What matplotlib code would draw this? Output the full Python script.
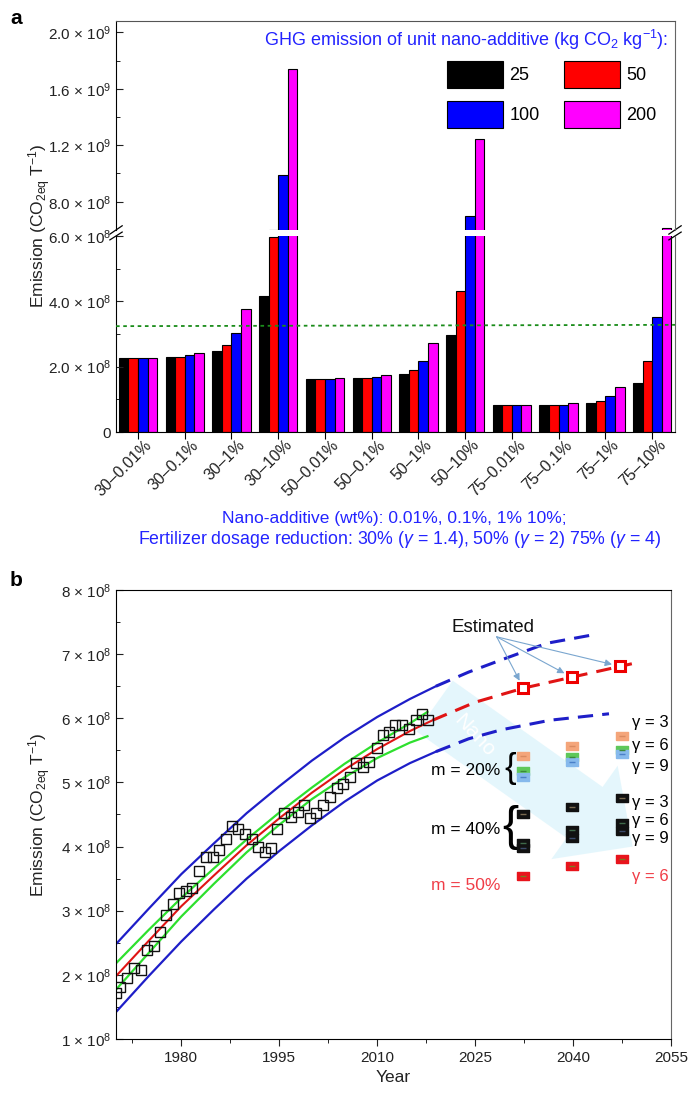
import matplotlib
matplotlib.use('Agg')
import matplotlib.pyplot as plt
from matplotlib.ticker import FixedLocator, FuncFormatter
from matplotlib.transforms import ScaledTranslation
import numpy as np

plt.rcParams['font.family'] = ['Liberation Sans', 'DejaVu Sans']
plt.rcParams['mathtext.fontset'] = 'custom'
plt.rcParams['mathtext.rm'] = 'Liberation Sans'
plt.rcParams['mathtext.it'] = 'Liberation Sans:italic'
plt.rcParams['mathtext.default'] = 'regular'

# ---------------- panel a data ----------------
groups = ['30–0.01%', '30–0.1%', '30–1%', '30–10%',
          '50–0.01%', '50–0.1%', '50–1%', '50–10%',
          '75–0.01%', '75–0.1%', '75–1%', '75–10%']
ghg_levels = ['25', '50', '100', '200']
em_25 = [2.28e8, 2.29e8, 2.48e8, 4.17e8, 1.63e8, 1.64e8, 1.77e8, 2.98e8, 0.83e8, 0.83e8, 0.90e8, 1.50e8]
em_50 = [2.28e8, 2.30e8, 2.66e8, 5.98e8, 1.63e8, 1.65e8, 1.90e8, 4.31e8, 0.83e8, 0.83e8, 0.96e8, 2.17e8]
em_100 = [2.28e8, 2.35e8, 3.02e8, 9.86e8, 1.63e8, 1.68e8, 2.17e8, 7.00e8, 0.83e8, 0.84e8, 1.09e8, 3.52e8]
em_200 = [2.28e8, 2.43e8, 3.77e8, 1.737e9, 1.64e8, 1.74e8, 2.72e8, 1.242e9, 0.83e8, 0.88e8, 1.37e8, 6.15e8]
threshold = [3.24e8, 3.28e8]  # dotted green line, left and right end

# ---------------- panel b data ----------------
obs_year = [1970.0, 1970.6, 1971.7, 1972.7, 1973.8, 1974.8, 1975.8, 1976.8, 1977.7, 1978.7,
            1979.7, 1980.7, 1981.7, 1982.7, 1983.8, 1984.8, 1985.8, 1986.8, 1987.8, 1988.7,
            1989.8, 1990.8, 1991.8, 1992.8, 1993.8, 1994.7, 1995.7, 1996.8, 1997.8, 1998.8,
            1999.7, 2000.7, 2001.7, 2002.8, 2003.8, 2004.8, 2005.8, 2006.8, 2007.9, 2008.8,
            2009.9, 2010.9, 2011.8, 2012.8, 2013.8, 2014.8, 2015.9, 2016.9, 2017.8]
obs_em = [1.72e8, 1.81e8, 1.95e8, 2.11e8, 2.08e8, 2.38e8, 2.45e8, 2.66e8, 2.93e8, 3.10e8,
          3.28e8, 3.30e8, 3.36e8, 3.62e8, 3.84e8, 3.84e8, 3.94e8, 4.12e8, 4.32e8, 4.28e8,
          4.19e8, 4.11e8, 4.00e8, 3.92e8, 3.97e8, 4.28e8, 4.53e8, 4.46e8, 4.54e8, 4.65e8,
          4.44e8, 4.52e8, 4.65e8, 4.78e8, 4.91e8, 4.98e8, 5.09e8, 5.31e8, 5.24e8, 5.32e8,
          5.53e8, 5.74e8, 5.79e8, 5.89e8, 5.89e8, 5.84e8, 5.97e8, 6.07e8, 5.98e8]

fit_year = [1970, 1975, 1980, 1985, 1990, 1995, 2000, 2005, 2010, 2015, 2018.5]
fit_em = [1.98e8, 2.53e8, 3.07e8, 3.55e8, 4.02e8, 4.44e8, 4.84e8, 5.20e8, 5.52e8, 5.80e8, 5.97e8]
ci_hi = [2.18e8, 2.70e8, 3.20e8, 3.66e8, 4.11e8, 4.53e8, 4.92e8, 5.29e8, 5.62e8, 5.92e8, 6.10e8]
ci_lo = [1.77e8, 2.34e8, 2.91e8, 3.42e8, 3.91e8, 4.34e8, 4.74e8, 5.08e8, 5.38e8, 5.62e8, 5.72e8]
ci_year = [1970, 1975, 1980, 1985, 1990, 1995, 2000, 2005, 2010, 2015, 2017.7]

pi_year = [1970, 1975, 1980, 1985, 1990, 1995, 2000, 2005, 2010, 2015, 2019]
pi_hi = [2.48e8, 3.03e8, 3.57e8, 4.05e8, 4.52e8, 4.94e8, 5.34e8, 5.70e8, 6.02e8, 6.30e8, 6.50e8]
pi_lo = [1.42e8, 1.98e8, 2.52e8, 3.02e8, 3.50e8, 3.93e8, 4.33e8, 4.70e8, 5.03e8, 5.30e8, 5.48e8]

proj_year = [2018.5, 2025, 2032.4, 2039.8, 2049.0]
proj_em = [5.97e8, 6.25e8, 6.47e8, 6.64e8, 6.85e8]
proj_hi_year = [2019, 2024, 2029, 2036, 2043]
proj_hi = [6.50e8, 6.72e8, 6.91e8, 7.17e8, 7.30e8]
proj_lo_year = [2019, 2024, 2029, 2036.5, 2045.5]
proj_lo = [5.48e8, 5.68e8, 5.82e8, 5.97e8, 6.07e8]

est_year = [2032.4, 2039.8, 2047.2]
est_em = [6.47e8, 6.64e8, 6.81e8]

scen_year = [2032.4, 2039.9, 2047.5]
m20_g3 = [5.41e8, 5.56e8, 5.73e8]
m20_g6 = [5.18e8, 5.40e8, 5.50e8]
m20_g9 = [5.09e8, 5.32e8, 5.45e8]
m40_g3 = [4.51e8, 4.62e8, 4.75e8]
m40_g6 = [4.06e8, 4.26e8, 4.36e8]
m40_g9 = [3.97e8, 4.14e8, 4.25e8]
m50_g6 = [3.54e8, 3.70e8, 3.80e8]


def fmt_a(v, pos):
    if v == 0:
        return '0'
    e = int(np.floor(np.log10(v) + 1e-9))
    return f'{v / 10**e:.1f} × 10$^{{{e}}}$'


def fmt_b(v, pos):
    e = int(np.floor(np.log10(v) + 1e-9))
    return f'{v / 10**e:.0f} × 10$^{{{e}}}$'


fig = plt.figure(figsize=(6.89, 10.94), dpi=100)

# ================= panel a (broken axis) =================
ax_hi = fig.add_axes([0.1684, 0.7898, 0.8113, 0.1910])
ax_lo = fig.add_axes([0.1684, 0.6051, 0.8113, 0.1792])

x = np.arange(len(groups))
w = 0.205
bar_colors = ['#000000', '#ff0000', '#0000ff', '#ff00ff']
handles = []
for k, (vals, c, lab) in enumerate(zip([em_25, em_50, em_100, em_200], bar_colors, ghg_levels)):
    for ax in (ax_hi, ax_lo):
        b = ax.bar(x + (k - 1.5) * w, vals, w, color=c, edgecolor='black', linewidth=0.8, label=lab)
    handles.append(b)

for ax in (ax_hi, ax_lo):
    ax.set_xlim(-0.47, 11.49)
    ax.spines['right'].set_color('#666666')
    ax.spines['top'].set_color('#555555')

ax_hi.set_ylim(6.0e8, 2.08e9)
ax_lo.set_ylim(0, 6.0e8)
ax_hi.spines['bottom'].set_visible(False)
ax_lo.spines['top'].set_visible(False)
ax_hi.tick_params(axis='x', bottom=False, labelbottom=False)

ax_hi.yaxis.set_major_locator(FixedLocator([8e8, 1.2e9, 1.6e9, 2.0e9]))
ax_hi.yaxis.set_minor_locator(FixedLocator([1.0e9, 1.4e9, 1.8e9]))
ax_lo.yaxis.set_major_locator(FixedLocator([0, 2e8, 4e8, 6e8]))
ax_lo.yaxis.set_minor_locator(FixedLocator([1e8, 3e8, 5e8]))
for ax in (ax_hi, ax_lo):
    ax.yaxis.set_major_formatter(FuncFormatter(fmt_a))
    ax.tick_params(axis='y', which='major', direction='in', length=5, labelsize=11, colors='#222222')
    ax.tick_params(axis='y', which='minor', direction='in', length=3)

ax_lo.set_xticks(x)
ax_lo.set_xticklabels(groups, rotation=45, ha='right', va='top', rotation_mode='anchor',
                      fontsize=11.5, color='#222222')
ax_lo.tick_params(axis='x', direction='out', length=5, pad=1)
shift = ScaledTranslation(6 / 100, 3 / 100, fig.dpi_scale_trans)
for lbl in ax_lo.get_xticklabels():
    lbl.set_transform(lbl.get_transform() + shift)

ax_lo.plot(ax_lo.get_xlim(), threshold, color='#1a8c1a', linestyle=(0, (2, 2)), linewidth=1.3, zorder=5)

# break marks
d = 0.011
kw = dict(color='black', linewidth=0.9, clip_on=False)
ax_lo.plot([-d, d], [1 - 0.02, 1 + 0.02], transform=ax_lo.transAxes, **kw)
ax_lo.plot([1 - d, 1 + d], [1 - 0.02, 1 + 0.02], transform=ax_lo.transAxes, **kw)
ax_hi.plot([-d, d], [-0.02, 0.02], transform=ax_hi.transAxes, **kw)
ax_hi.plot([1 - d, 1 + d], [-0.02, 0.02], transform=ax_hi.transAxes, **kw)

fig.text(668 / 689, 1 - 40 / 1094, 'GHG emission of unit nano-additive (kg CO$_2$ kg$^{-1}$):',
         color='#2323ff', fontsize=13, ha='right', va='center')
leg = ax_hi.legend([handles[0], handles[2], handles[1], handles[3]],
                   [ghg_levels[0], ghg_levels[2], ghg_levels[1], ghg_levels[3]],
                   ncol=2, frameon=False, fontsize=13, handlelength=3.1, handleheight=1.9,
                   handletextpad=0.35, columnspacing=1.35, labelspacing=0.75,
                   loc='upper left', bbox_to_anchor=(447 / 689, 1 - 61 / 1094),
                   bbox_transform=fig.transFigure, borderaxespad=0, borderpad=0)

fig.text(0.5727, 1 - 518 / 1094, 'Nano-additive (wt%): 0.01%, 0.1%, 1% 10%;',
         color='#2323ff', fontsize=12.5, ha='center', va='center')
fig.text(0.5800, 1 - 539 / 1094,
         'Fertilizer dosage reduction: 30% ($\\mathit{\\gamma}$ = 1.4), 50% ($\\mathit{\\gamma}$ = 2) 75% ($\\mathit{\\gamma}$ = 4)',
         color='#2323ff', fontsize=12.8, ha='center', va='center')

fig.text(40 / 689, 1 - 226 / 1094, 'Emission (CO$_{2\\mathrm{eq}}$ T$^{-1}$)', rotation=90,
         fontsize=12.5, ha='center', va='center', color='#222222')
fig.text(10 / 689, 1 - 18 / 1094, 'a', fontsize=15, fontweight='bold', ha='left', va='center')

# ================= panel b =================
axb = fig.add_axes([0.1684, 0.0503, 0.8055, 0.4104])
axb.set_xlim(1970, 2055)
axb.set_ylim(1e8, 8e8)
axb.spines['right'].set_color('#666666')

# pale "Nano" arrow in the background
axb.annotate('', xy=(0.935, 0.425), xytext=(0.57, 0.745), xycoords='axes fraction',
             arrowprops=dict(arrowstyle='simple,head_length=1.7,head_width=3.3,tail_width=1.8',
                             mutation_scale=25, fc='#e2f6fc', ec='none', alpha=0.9), zorder=0)
axb.text(0.645, 0.675, 'Nano', transform=axb.transAxes, rotation=-47, color='white',
         fontsize=15, ha='center', va='center', zorder=1)

blue = '#1e1ec8'
axb.plot(pi_year, pi_hi, color=blue, linewidth=1.6)
axb.plot(pi_year, pi_lo, color=blue, linewidth=1.6)
axb.plot(proj_hi_year, proj_hi, color=blue, linewidth=2.2, linestyle=(0, (5, 3)))
axb.plot(proj_lo_year, proj_lo, color=blue, linewidth=2.2, linestyle=(0, (5, 3)))
axb.plot(ci_year, ci_hi, color='#2ee02e', linewidth=1.6)
axb.plot(ci_year, ci_lo, color='#2ee02e', linewidth=1.6)
axb.plot(fit_year, fit_em, color='#e01414', linewidth=1.5)
axb.plot(proj_year, proj_em, color='#e01414', linewidth=2.2, linestyle=(0, (5, 3)))
axb.plot(obs_year, obs_em, linestyle='none', marker='s', markersize=6.5, mfc='none', mec='#111111', mew=1.0)
axb.plot(est_year, est_em, linestyle='none', marker='s', markersize=7, mfc='white', mec='#ee0000', mew=2.2, zorder=6)

axb.text(2027.8, 7.41e8, 'Estimated', fontsize=13.5, ha='center', va='center', color='#111111')
for ex, ey in zip(est_year, est_em):
    axb.annotate('', xy=(ex, ey), xytext=(2028.3, 7.27e8),
                 arrowprops=dict(arrowstyle='-|>,head_length=0.4,head_width=0.2', color='#7aa6cf',
                                 linewidth=0.8, shrinkA=0, shrinkB=6))

rect = [(-1, -0.65), (1, -0.65), (1, 0.65), (-1, 0.65), (-1, -0.65)]
scen = [(m20_g3, '#f4a57a', '#d98a60'), (m20_g6, '#5ec85a', '#3a8a3a'), (m20_g9, '#86b9ec', '#4a80c8'),
        (m40_g3, '#111111', '#7a6a50'), (m40_g6, '#111111', '#3f6a4a'), (m40_g9, '#111111', '#3a4a6a'),
        (m50_g6, '#e8141c', '#7a7a20')]
for vals, c, inner in scen:
    axb.plot(scen_year, vals, linestyle='none', marker=rect, markersize=8, color=c, zorder=4)
    axb.plot(scen_year, vals, linestyle='none', marker='_', markersize=4, mew=1.0, color=inner, zorder=5)

axb.text(2028.9, 5.19e8, 'm = 20%', fontsize=12.5, ha='right', va='center')
axb.text(2030.4, 5.22e8, '{', fontsize=25, ha='center', va='center')
axb.text(2028.9, 4.27e8, 'm = 40%', fontsize=12.5, ha='right', va='center')
axb.text(2030.4, 4.30e8, '{', fontsize=35, ha='center', va='center')
axb.text(2028.9, 3.40e8, 'm = 50%', fontsize=12.5, ha='right', va='center', color='#f03c46')
for yv, lab in [(5.93e8, 'γ = 3'), (5.58e8, 'γ = 6'), (5.25e8, 'γ = 9'),
                (4.69e8, 'γ = 3'), (4.40e8, 'γ = 6'), (4.12e8, 'γ = 9')]:
    axb.text(2049.0, yv, lab, fontsize=12, ha='left', va='center')
axb.text(2049.0, 3.53e8, 'γ = 6', fontsize=12, ha='left', va='center', color='#f03c46')

axb.xaxis.set_major_locator(FixedLocator([1980, 1995, 2010, 2025, 2040, 2055]))
axb.xaxis.set_minor_locator(FixedLocator([1972.5, 1987.5, 2002.5, 2017.5, 2032.5, 2047.5]))
axb.yaxis.set_major_locator(FixedLocator([1e8, 2e8, 3e8, 4e8, 5e8, 6e8, 7e8, 8e8]))
axb.yaxis.set_minor_locator(FixedLocator([1.5e8, 2.5e8, 3.5e8, 4.5e8, 5.5e8, 6.5e8, 7.5e8]))
axb.yaxis.set_major_formatter(FuncFormatter(fmt_b))
axb.tick_params(axis='y', which='major', direction='in', length=5, labelsize=11, colors='#222222')
axb.tick_params(axis='y', which='minor', direction='in', length=3)
axb.tick_params(axis='x', which='major', direction='out', length=5, labelsize=11, colors='#222222')
axb.tick_params(axis='x', which='minor', direction='out', length=3)
axb.set_xlabel('Year', fontsize=12.5, color='#222222', labelpad=4)

fig.text(40 / 689, 1 - 815 / 1094, 'Emission (CO$_{2\\mathrm{eq}}$ T$^{-1}$)', rotation=90,
         fontsize=12.5, ha='center', va='center', color='#222222')
fig.text(10 / 689, 1 - 581 / 1094, 'b', fontsize=15, fontweight='bold', ha='left', va='center')

fig.savefig('out.png', dpi=100)
